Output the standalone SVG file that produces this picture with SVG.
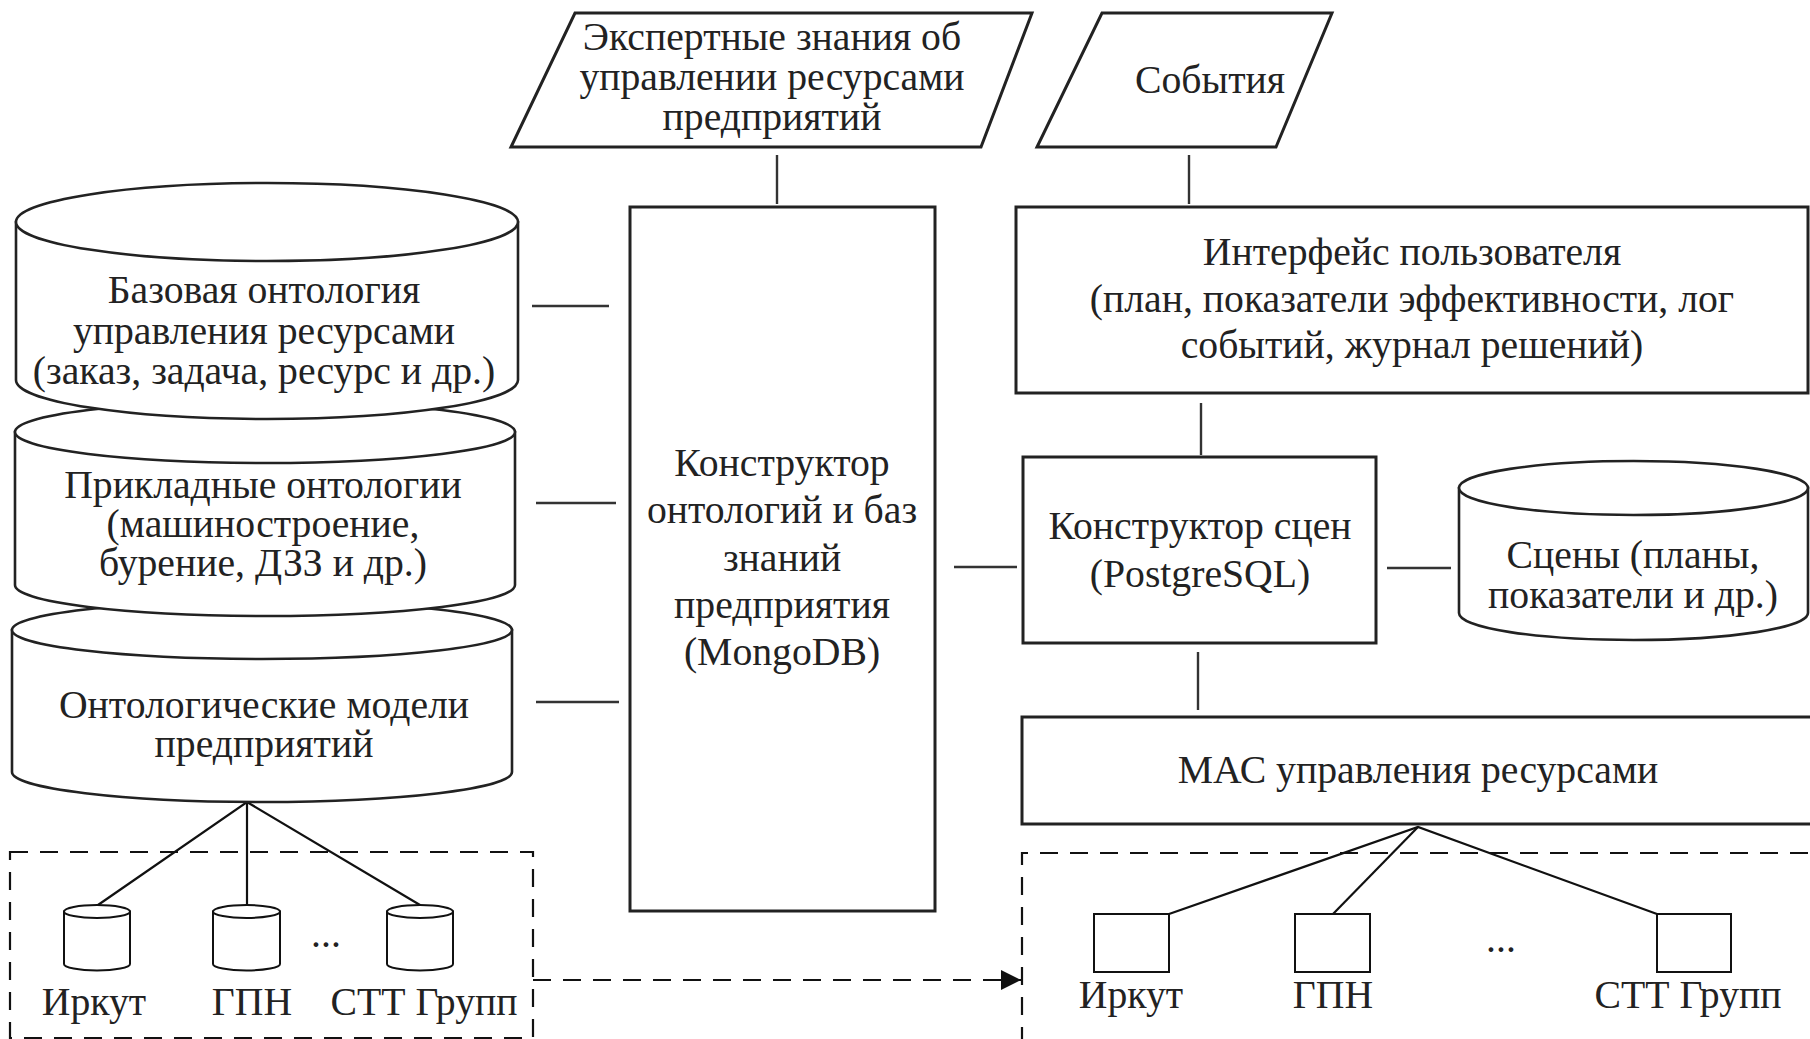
<svg xmlns="http://www.w3.org/2000/svg" width="1810" height="1039" viewBox="0 0 1810 1039">
<defs>
<style>
.t{font-family:"Liberation Serif","Times New Roman",serif;font-size:39.7px;fill:#222;text-anchor:middle}
.box{fill:#fff;stroke:#222;stroke-width:3}
.cyl{fill:#fff;stroke:#222;stroke-width:2.6}
.scyl{fill:#fff;stroke:#111;stroke-width:2}
.ln{fill:none;stroke:#333;stroke-width:2.4}
.fan{fill:none;stroke:#111;stroke-width:2.2}
.dash{fill:none;stroke:#111;stroke-width:2.2;stroke-dasharray:18 12}
</style>
<marker id="arr" viewBox="0 0 20 20" refX="20" refY="10" markerWidth="20" markerHeight="20" markerUnits="userSpaceOnUse" orient="auto">
<path d="M0,0 L20,10 L0,20 z" fill="#111"/>
</marker>
</defs>
<rect width="1810" height="1039" fill="#fff"/>

<g id="connectors">
<line class="ln" x1="777" y1="155" x2="777" y2="204"/>
<line class="ln" x1="1189" y1="155" x2="1189" y2="204"/>
<line class="ln" x1="1201" y1="403" x2="1201" y2="455"/>
<line class="ln" x1="1198" y1="652" x2="1198" y2="710"/>
<line class="ln" x1="954" y1="567" x2="1017" y2="567"/>
<line class="ln" x1="1387" y1="568" x2="1451" y2="568"/>
<line class="ln" x1="532" y1="306" x2="609" y2="306"/>
<line class="ln" x1="536" y1="503" x2="616" y2="503"/>
<line class="ln" x1="536" y1="702" x2="619" y2="702"/>
<polyline class="fan" points="98,905 247,802 420,905"/>
<line class="fan" x1="247" y1="802" x2="247" y2="905"/>
<polyline class="fan" points="1169,914 1418,827 1657,914"/>
<line class="fan" x1="1418" y1="827" x2="1333" y2="914"/>
<line class="dash" x1="533" y1="980" x2="1021" y2="980" marker-end="url(#arr)"/>
</g>

<g id="group-left">
<rect class="dash" x="10" y="852" width="523" height="186"/>
</g>
<g id="group-right">
<path class="dash" d="M1022,1045 L1022,853 L1815,853"/>
</g>

<g id="expert">
<polygon class="box" points="575,13 1032,13 981,147 511,147"/>
<text class="t" x="772" y="50">Экспертные знания об</text>
<text class="t" x="772" y="90">управлении ресурсами</text>
<text class="t" x="772" y="130">предприятий</text>
</g>

<g id="events">
<polygon class="box" points="1102,13 1332,13 1276,147 1037,147"/>
<text class="t" x="1210" y="93">События</text>
</g>

<g id="cyl-models">
<path class="cyl" d="M12,630 L12,772 A250,30 0 0 0 512,772 L512,630 Z"/>
<ellipse class="cyl" cx="262" cy="630" rx="250" ry="29"/>
<text class="t" x="264" y="718">Онтологические модели</text>
<text class="t" x="264" y="757">предприятий</text>
</g>

<g id="cyl-applied">
<path class="cyl" d="M15,432 L15,585 A250,31 0 0 0 515,585 L515,432 Z"/>
<ellipse class="cyl" cx="265" cy="432" rx="250" ry="31"/>
<text class="t" x="263" y="498">Прикладные онтологии</text>
<text class="t" x="263" y="537">(машиностроение,</text>
<text class="t" x="263" y="576">бурение, ДЗЗ и др.)</text>
</g>

<g id="cyl-base">
<path class="cyl" d="M16,222 L16,380 A251,39 0 0 0 518,380 L518,222 Z"/>
<ellipse class="cyl" cx="267" cy="222" rx="251" ry="39"/>
<text class="t" x="264" y="303">Базовая онтология</text>
<text class="t" x="264" y="344">управления ресурсами</text>
<text class="t" x="264" y="384">(заказ, задача, ресурс и др.)</text>
</g>

<g id="constructor">
<rect class="box" x="630" y="207" width="305" height="704"/>
<text class="t" x="782" y="476">Конструктор</text>
<text class="t" x="782" y="523">онтологий и баз</text>
<text class="t" x="782" y="571">знаний</text>
<text class="t" x="782" y="618">предприятия</text>
<text class="t" x="782" y="665">(MongoDB)</text>
</g>

<g id="ui">
<rect class="box" x="1016" y="207" width="792" height="186"/>
<text class="t" x="1412" y="265">Интерфейс пользователя</text>
<text class="t" x="1412" y="312">(план, показатели эффективности, лог</text>
<text class="t" x="1412" y="358">событий, журнал решений)</text>
</g>

<g id="scene-constructor">
<rect class="box" x="1023" y="457" width="353" height="186"/>
<text class="t" x="1200" y="539">Конструктор сцен</text>
<text class="t" x="1200" y="587">(PostgreSQL)</text>
</g>

<g id="scenes">
<path class="cyl" d="M1459,488 L1459,613 A174.5,27 0 0 0 1808,613 L1808,488 Z"/>
<ellipse class="cyl" cx="1633.5" cy="488" rx="174.5" ry="27"/>
<text class="t" x="1633" y="568">Сцены (планы,</text>
<text class="t" x="1633" y="608">показатели и др.)</text>
</g>

<g id="mas">
<rect class="box" x="1022" y="717" width="800" height="107"/>
<text class="t" x="1418" y="783">МАС управления ресурсами</text>
</g>

<g id="db-irkut">
<path class="scyl" d="M64,911.5 L64,964 A33,6.5 0 0 0 130,964 L130,911.5 Z"/>
<ellipse class="scyl" cx="97" cy="911.5" rx="33" ry="6.5"/>
<text class="t" x="94" y="1015">Иркут</text>
</g>
<g id="db-gpn">
<path class="scyl" d="M213,911.5 L213,964 A33.5,6.5 0 0 0 280,964 L280,911.5 Z"/>
<ellipse class="scyl" cx="246.5" cy="911.5" rx="33.5" ry="6.5"/>
<text class="t" x="252" y="1015">ГПН</text>
</g>
<g id="db-dots">
<text class="t" x="326" y="947">...</text>
</g>
<g id="db-stt">
<path class="scyl" d="M387,911.5 L387,964 A33,6.5 0 0 0 453,964 L453,911.5 Z"/>
<ellipse class="scyl" cx="420" cy="911.5" rx="33" ry="6.5"/>
<text class="t" x="424" y="1015">СТТ Групп</text>
</g>

<g id="agent-irkut">
<rect class="scyl" x="1094" y="914" width="75" height="58"/>
<text class="t" x="1131" y="1008">Иркут</text>
</g>
<g id="agent-gpn">
<rect class="scyl" x="1295" y="914" width="75" height="58"/>
<text class="t" x="1333" y="1008">ГПН</text>
</g>
<g id="agent-dots">
<text class="t" x="1501" y="952">...</text>
</g>
<g id="agent-stt">
<rect class="scyl" x="1657" y="914" width="74" height="58"/>
<text class="t" x="1688" y="1008">СТТ Групп</text>
</g>
</svg>
